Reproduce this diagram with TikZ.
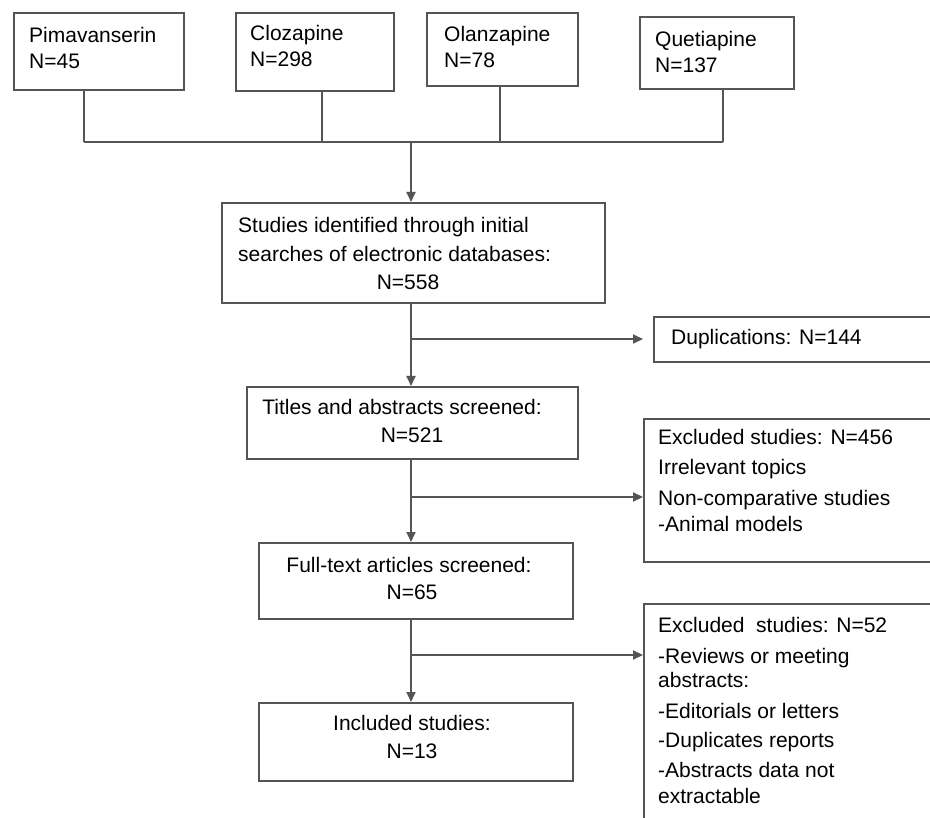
\documentclass[tikz,border=0pt]{standalone}
\usepackage{fontspec}
\setmainfont{Liberation Sans}
\usetikzlibrary{arrows.meta}
\definecolor{lc}{RGB}{85,85,85}
\begin{document}
\begin{tikzpicture}[x=1pt,y=-1pt,
  box/.style={draw=lc,line width=1.8pt,inner sep=0pt,anchor=north west},
  txt/.style={font=\fontsize{21}{29}\selectfont,inner sep=0pt,anchor=base west,text=black},
  ctxt/.style={txt,anchor=base},
  ln/.style={draw=lc,line width=1.8pt},
  arr/.style={ln,-{Triangle[length=10pt,width=9pt]}}]
\useasboundingbox[fill=white] (0,0) rectangle (930,818);
% top boxes
\node[box,minimum width=170pt,minimum height=77pt] (pima) at (13,12) {};
\node[box,minimum width=158pt,minimum height=78pt] (cloz) at (235,12) {};
\node[box,minimum width=151pt,minimum height=73pt] (olan) at (426,12) {};
\node[box,minimum width=154pt,minimum height=72pt] (quet) at (639,16) {};
\node[txt] (t1a) at (29,43) {Pimavanserin};
\node[txt] (t1b) at (29,69) {N=45};
\node[txt] (t2a) at (250,41) {Clozapine};
\node[txt] (t2b) at (250,67) {N=298};
\node[txt] (t3a) at (444,42) {Olanzapine};
\node[txt] (t3b) at (444,68) {N=78};
\node[txt] (t4a) at (655,47) {Quetiapine};
\node[txt] (t4b) at (655,73) {N=137};
% central boxes
\node[box,minimum width=383pt,minimum height=100pt] (studies) at (221,202) {};
\node[txt] (s1) at (238,233) {Studies identified through initial};
\node[txt] (s2) at (238,262) {searches of electronic databases:};
\node[ctxt] (s3) at (408,290) {N=558};
\node[box,minimum width=331pt,minimum height=72pt] (titles) at (246,386) {};
\node[ctxt] (ti1) at (402,415) {Titles and abstracts screened:};
\node[ctxt] (ti2) at (412,443) {N=521};
\node[box,minimum width=314pt,minimum height=76pt] (full) at (258,542) {};
\node[ctxt] (f1) at (409,572) {Full-text articles screened:};
\node[ctxt] (f2) at (412,599) {N=65};
\node[box,minimum width=314pt,minimum height=78pt] (incl) at (258,702) {};
\node[ctxt] (i1) at (412,730) {Included studies:};
\node[ctxt] (i2) at (412,758) {N=13};
% right boxes
\node[box,minimum width=290pt,minimum height=45pt] (dup) at (653,316) {};
\node[txt] (d1t) at (671,345) {Duplications: N=144};
\node[box,minimum width=300pt,minimum height=143pt] (ex1) at (643,418) {};
\node[txt] (e1) at (658,445) {Excluded studies: N=456};
\node[txt] (e2) at (658,475) {Irrelevant topics};
\node[txt] (e3) at (658,505) {Non-comparative studies};
\node[txt] (e4) at (658,532) {-Animal models};
\node[box,minimum width=300pt,minimum height=230pt] (ex2) at (643,603) {};
\node[txt] (g1) at (658,632) {Excluded\ \ studies: N=52};
\node[txt] (g2) at (658,663) {-Reviews or meeting};
\node[txt] (g3) at (658,687) {abstracts:};
\node[txt] (g4) at (658,718) {-Editorials or letters};
\node[txt] (g5) at (658,747) {-Duplicates reports};
\node[txt] (g6) at (658,777) {-Abstracts data not};
\node[txt] (g7) at (658,803) {extractable};
% connectors
\coordinate (spine) at (411,0);
\coordinate (b1) at (84,142);
\coordinate (b2) at (322,142);
\coordinate (b3) at (500,142);
\coordinate (b4) at (723,142);
\draw[ln] (b1 |- pima.south) -- (b1);
\draw[ln] (b2 |- cloz.south) -- (b2);
\draw[ln] (b3 |- olan.south) -- (b3);
\draw[ln] (b4 |- quet.south) -- (b4);
\draw[ln] (b1) -- (b4);
\draw[arr] (spine |- b1) -- (spine |- studies.north);
\draw[arr] (spine |- studies.south) -- (spine |- titles.north);
\draw[arr] (spine |- titles.south) -- (spine |- full.north);
\draw[arr] (spine |- full.south) -- (spine |- incl.north);
\coordinate (r1) at (411,339);
\coordinate (r2) at (411,497);
\coordinate (r3) at (411,655);
\draw[arr,shorten >=10pt] (r1) -- (r1 -| dup.west);
\draw[arr] (r2) -- (r2 -| ex1.west);
\draw[arr] (r3) -- (r3 -| ex2.west);
\end{tikzpicture}
\end{document}
